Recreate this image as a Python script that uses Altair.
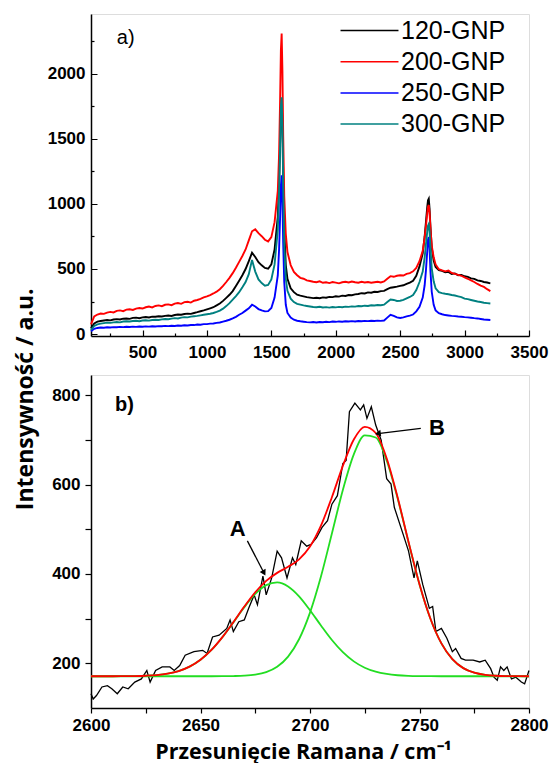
import altair as alt
import pandas as pd

# ---------------- panel a) : Raman spectra ----------------
X_TOP = (list(range(100, 1550, 25))
         + [1550, 1560, 1568, 1574, 1580, 1586, 1592, 1600, 1612, 1625]
         + list(range(1650, 2700, 25))
         + [2690, 2700, 2710, 2716, 2722, 2728, 2735, 2745, 2760, 2775]
         + list(range(2800, 3201, 25)))

Y_120 = ([45, 82, 95, 100, 104, 108, 105, 112, 115, 112, 118, 120, 117, 124, 126, 122, 128, 131, 127, 134,
          133, 137, 135, 140, 142, 139, 146, 150, 148, 154, 157, 155, 162, 168, 175, 182, 190, 198, 206, 220,
          235, 255, 278, 302, 330, 370, 410, 452, 500, 560, 625, 592, 552, 528, 508, 502, 535, 650]
         + [900, 1150, 1480, 1740, 1800, 1620, 1220, 810, 530, 425]
         + [352, 322, 302, 295, 290, 284, 280, 276, 279, 275, 282, 279, 286, 284, 290, 288, 295, 293, 300, 298,
            305, 308, 314, 312, 320, 318, 325, 323, 330, 332, 345, 356, 360, 364, 370, 375, 386, 395, 410, 448,
            520, 620]
         + [750, 860, 975, 1028, 1040, 965, 825, 665, 565, 515]
         + [492, 485, 474, 478, 462, 466, 452, 455, 444, 440, 428, 424, 412, 408, 400, 396, 390])

Y_200 = ([75, 135, 150, 158, 155, 165, 170, 166, 178, 182, 176, 188, 190, 185, 196, 200, 196, 206, 212, 205,
          216, 220, 214, 225, 228, 222, 234, 238, 232, 245, 248, 242, 256, 262, 270, 282, 290, 300, 312, 326,
          345, 370, 400, 432, 468, 510, 555, 600, 650, 720, 790, 805, 775, 752, 725, 712, 745, 860]
         + [1100, 1380, 1800, 2180, 2310, 2020, 1520, 1060, 770, 630]
         + [530, 478, 452, 432, 425, 412, 408, 402, 398, 405, 394, 398, 392, 400, 395, 390, 398, 402, 396, 404,
            398, 395, 402, 396, 400, 394, 398, 402, 396, 404, 425, 445, 440, 448, 452, 450, 462, 468, 482, 508,
            560, 640]
         + [740, 830, 930, 978, 992, 935, 815, 680, 590, 535]
         + [498, 490, 482, 488, 470, 462, 455, 448, 435, 425, 412, 400, 385, 372, 362, 345, 330])

Y_250 = ([22, 40, 47, 50, 49, 52, 50, 53, 52, 55, 53, 56, 54, 57, 55, 58, 56, 59, 57, 60,
          58, 61, 60, 63, 61, 64, 62, 66, 64, 68, 66, 70, 69, 73, 72, 76, 76, 80, 81, 86,
          89, 96, 102, 110, 120, 132, 148, 162, 180, 198, 225, 212, 192, 182, 174, 176, 200, 280]
         + [450, 650, 900, 1140, 1220, 1010, 700, 400, 225, 162]
         + [126, 110, 102, 98, 95, 92, 90, 92, 89, 93, 91, 94, 92, 96, 94, 97, 95, 98, 96, 99,
            97, 100, 98, 101, 99, 102, 100, 103, 101, 104, 126, 148, 140, 128, 124, 128, 136, 142, 150, 174,
            210, 280]
         + [375, 490, 635, 725, 745, 660, 485, 325, 225, 182]
         + [160, 152, 146, 143, 140, 138, 135, 133, 130, 128, 125, 122, 120, 116, 112, 110, 108])

Y_300 = ([32, 62, 74, 80, 84, 88, 86, 90, 93, 90, 96, 98, 96, 100, 102, 99, 104, 106, 103, 108,
          110, 108, 113, 116, 114, 119, 122, 120, 126, 130, 128, 134, 137, 140, 144, 148, 152, 156, 162, 170,
          180, 195, 215, 238, 265, 292, 322, 360, 400, 460, 570, 480, 420, 392, 372, 378, 420, 535]
         + [800, 1100, 1450, 1750, 1820, 1600, 1150, 700, 425, 332]
         + [272, 246, 232, 226, 220, 216, 212, 208, 206, 210, 204, 207, 203, 208, 205, 209, 206, 211, 209, 213,
            211, 216, 214, 218, 216, 221, 219, 223, 221, 226, 246, 266, 262, 254, 256, 262, 274, 285, 300, 338,
            400, 480]
         + [590, 690, 785, 832, 845, 790, 660, 505, 405, 352]
         + [322, 315, 310, 306, 300, 296, 290, 284, 272, 268, 262, 256, 250, 246, 241, 238, 235])

SERIES = ["120-GNP", "200-GNP", "250-GNP", "300-GNP"]
COLORS = ["#000000", "#ff0000", "#0000ff", "#008080"]

# ---------------- panel b) : 2D band fit ----------------
X_B = [2600, 2601, 2602.5, 2605, 2607.5, 2609.5, 2612, 2614.5, 2617, 2620, 2623, 2625.5, 2627, 2629.5,
       2632.5, 2636, 2638, 2640.5, 2643, 2647, 2651, 2653, 2655.5, 2658.5, 2662, 2663.5, 2665, 2667.5,
       2670, 2672, 2674.5, 2676, 2678.5, 2680, 2682.5, 2685, 2687, 2689.5, 2692, 2693.5, 2696, 2698.5,
       2700.5, 2703, 2705.5, 2708, 2710, 2712.5, 2715, 2716.5, 2718, 2720.5, 2723, 2724.5, 2726, 2728,
       2730, 2732.5, 2735, 2737, 2738.5, 2742.5, 2745, 2747.5, 2749, 2751.5, 2754.5, 2756, 2757.5, 2760,
       2762.5, 2765, 2766.5, 2769, 2771, 2774.5, 2777.5, 2780, 2782.5, 2784, 2785.5, 2787, 2788.5, 2790,
       2792, 2794, 2796.5, 2798, 2800]
Y_B = [132, 120, 128, 147, 150, 143, 132, 147, 143, 158, 165, 184, 158, 184, 192, 192, 184, 195, 218,
       226, 229, 222, 259, 263, 278, 297, 271, 293, 297, 323, 353, 331, 395, 353, 391, 451, 436, 391, 436,
       421, 474, 462, 466, 481, 504, 519, 556, 575, 647, 654, 763, 782, 767, 778, 748, 774, 733, 699, 613,
       601, 549, 489, 451, 391, 429, 376, 323, 327, 271, 278, 256, 226, 233, 211, 207, 207, 203, 207, 188,
       169, 162, 192, 184, 192, 165, 169, 158, 154, 184]

X_FIT = list(range(2600, 2801, 5))
FIT_A = [171.0, 171.0, 171.0, 171.2, 171.5, 172.2, 173.7, 176.9, 182.6, 192.5, 207.9, 229.9, 258.4, 291.5,
         325.5, 355.1, 374.9, 381.0, 371.9, 349.8, 318.8, 284.7, 252.2, 224.9, 204.3, 190.1, 181.2, 176.1,
         173.3, 172.0, 171.4, 171.1, 171.0, 171.0, 171.0, 171.0, 171.0, 171.0, 171.0, 171.0, 171.0]
FIT_B = [171.0, 171.0, 171.0, 171.0, 171.0, 171.0, 171.0, 171.0, 171.0, 171.0, 171.0, 171.0, 171.1, 171.5,
         172.4, 174.8, 180.4, 192.3, 215.0, 253.8, 313.4, 394.2, 490.4, 587.8, 667.3, 710.0, 705.1, 653.8,
         569.1, 470.5, 376.5, 299.6, 244.5, 209.3, 189.2, 178.9, 174.1, 172.1, 171.4, 171.1, 171.0]
FIT_SUM = [171.0, 171.0, 171.0, 171.2, 171.5, 172.2, 173.7, 176.9, 182.6, 192.5, 207.9, 229.9, 258.5, 292.0,
           326.9, 358.9, 384.3, 402.3, 415.9, 432.6, 461.2, 507.9, 571.6, 641.7, 700.6, 729.1, 715.3, 658.9,
           571.4, 471.5, 376.9, 299.7, 244.5, 209.3, 189.2, 178.9, 174.1, 172.1, 171.4, 171.1, 171.0]

for ys in (Y_120, Y_200, Y_250, Y_300):
    assert len(ys) == len(X_TOP), (len(ys), len(X_TOP))
assert len(X_B) == len(Y_B)
assert len(FIT_A) == len(FIT_B) == len(FIT_SUM) == len(X_FIT)

# annotations (data coordinates)
ARROW_X = [2671.4, 2750.6]
ARROW_Y = [474, 725.6]
ARROW_X2 = [2679, 2731]
ARROW_Y2 = [402, 714]
ARROW_ANGLE = [152, 263]
LABEL_X = [2667, 2758]
LABEL_Y = [500, 726]
LABEL_T = ["A", "B"]

FONT_AX = "Liberation Sans"
FONT_TITLE = "Open Sans"
X_TITLE = "Przesunięcie Ramana / cm⁻¹"
Y_TITLE = "Intensywność / a.u."

# ---------------- build frames ----------------
rows = []
for name, ys in zip(SERIES, [Y_120, Y_200, Y_250, Y_300]):
    for x, y in zip(X_TOP, ys):
        rows.append({"x": x, "y": y, "s": name})
df_top = pd.DataFrame(rows)
df_b = pd.DataFrame({"x": X_B, "y": Y_B})
df_fit = pd.DataFrame({"x": X_FIT, "A": FIT_A, "B": FIT_B, "fit": FIT_SUM})
df_arrow = pd.DataFrame({"x": ARROW_X, "y": ARROW_Y, "x2": ARROW_X2, "y2": ARROW_Y2, "ang": ARROW_ANGLE})
df_lab = pd.DataFrame({"x": LABEL_X, "y": LABEL_Y, "t": LABEL_T})


def make_axis(values, major, pad, tick, minor_dash=True, **kw):
    extra = {}
    if minor_dash:
        extra["tickDash"] = {"condition": {"test": f"datum.value % {major} !== 0", "value": [3, 40]},
                             "value": [1, 0]}
    return alt.Axis(
        values=values, format="d",
        labelExpr=f"datum.value % {major} === 0 ? datum.label : ''",
        labelFlush=False, labelOverlap=False,
        labelFont=FONT_AX, labelFontWeight="bold", labelFontSize=17, labelColor="black",
        labelPadding=pad, tickSize=tick, tickColor="black", tickWidth=1.2,
        domainColor="black", domainWidth=1.5, grid=False, **extra, **kw)


# top panel: inward ticks
X_T = alt.X("x:Q", scale=alt.Scale(domain=[100, 3500], nice=False, zero=False), title=None,
            axis=make_axis(list(range(250, 3501, 250)), 500, 14, {"expr": "-6"}))
Y_T = alt.Y("y:Q", scale=alt.Scale(domain=[-15, 2460], nice=False, zero=False), title=None,
            axis=make_axis(list(range(0, 2251, 250)), 500, 12, {"expr": "-6"}))

top_lines = alt.Chart(df_top).mark_line(strokeWidth=1.9).encode(
    x=X_T, y=Y_T,
    color=alt.Color("s:N", scale=alt.Scale(domain=SERIES, range=COLORS),
                    legend=alt.Legend(title=None, orient="none", legendX=266, legendY=4,
                                      symbolType="M-4,0L4,0", symbolSize=210, symbolStrokeWidth=1.5,
                                      labelFont=FONT_AX, labelFontSize=25, labelColor="black",
                                      labelOffset=19, rowPadding=5.2, padding=0)),
)
top_label = alt.Chart(pd.DataFrame({"x": [300], "y": [2272], "t": ["a)"]})).mark_text(
    font=FONT_AX, fontSize=20, align="left", baseline="middle", color="black"
).encode(x=X_T, y=Y_T, text="t:N")

top = alt.layer(top_lines, top_label).properties(width=438, height=322)

# bottom panel: outward ticks
SC_XB = alt.Scale(domain=[2600, 2800], nice=False, zero=False)
SC_YB = alt.Scale(domain=[100, 845], nice=False, zero=False)
AX_XB = make_axis(list(range(2600, 2801, 25)), 50, 4, 5, minor_dash=False,
                  titleFont=FONT_TITLE, titleFontSize=21.5, titleFontWeight="bold",
                  titleColor="black", titlePadding=8, titleX=212)
AX_YB = make_axis(list(range(200, 801, 100)), 200, 5, 6, minor_dash=False)


def xb(field):
    return alt.X(f"{field}:Q", scale=SC_XB, title=X_TITLE, axis=AX_XB)


def yb(field):
    return alt.Y(f"{field}:Q", scale=SC_YB, title=None, axis=AX_YB)


b_data = alt.Chart(df_b).mark_line(color="black", strokeWidth=1.3).encode(x=xb("x"), y=yb("y"))
b_ga = alt.Chart(df_fit).mark_line(color="#22dd22", strokeWidth=1.8, interpolate="monotone").encode(
    x=xb("x"), y=yb("A"))
b_gb = alt.Chart(df_fit).mark_line(color="#22dd22", strokeWidth=1.8, interpolate="monotone").encode(
    x=xb("x"), y=yb("B"))
b_fit = alt.Chart(df_fit).mark_line(color="#ff0000", strokeWidth=1.8, interpolate="monotone").encode(
    x=xb("x"), y=yb("fit"))
b_arrow = alt.Chart(df_arrow).mark_rule(color="black", strokeWidth=1.3).encode(
    x=xb("x"), y=yb("y"), x2="x2:Q", y2="y2:Q")
b_head = alt.Chart(df_arrow).mark_point(shape="triangle-up", filled=True, size=45, color="black",
                                        opacity=1).encode(
    x=xb("x2"), y=yb("y2"), angle=alt.Angle("ang:Q", scale=None))
b_text = alt.Chart(df_lab).mark_text(font=FONT_AX, fontSize=22, fontWeight="bold", color="black",
                                     align="center", baseline="middle").encode(
    x=xb("x"), y=yb("y"), text="t:N")
b_panel = alt.Chart(pd.DataFrame({"x": [2611], "y": [778], "t": ["b)"]})).mark_text(
    font=FONT_AX, fontSize=20, fontWeight="bold", color="black", align="left", baseline="middle"
).encode(x=xb("x"), y=yb("y"), text="t:N")

bottom = alt.layer(b_data, b_ga, b_gb, b_fit, b_arrow, b_head, b_text, b_panel).properties(
    width=438, height=333)

chart = alt.vconcat(top, bottom, spacing=13).properties(
    title=alt.TitleParams(text=Y_TITLE, orient="left", anchor="middle", dx=-11,
                          font=FONT_TITLE, fontSize=23, fontWeight="bold", color="black", offset=9),
    padding={"left": 6, "top": 5, "right": 0, "bottom": 0},
).configure_view(stroke="black", strokeWidth=1.5).configure(background="white")

chart.save("out.html", embed_options={"renderer": "svg", "actions": False})
